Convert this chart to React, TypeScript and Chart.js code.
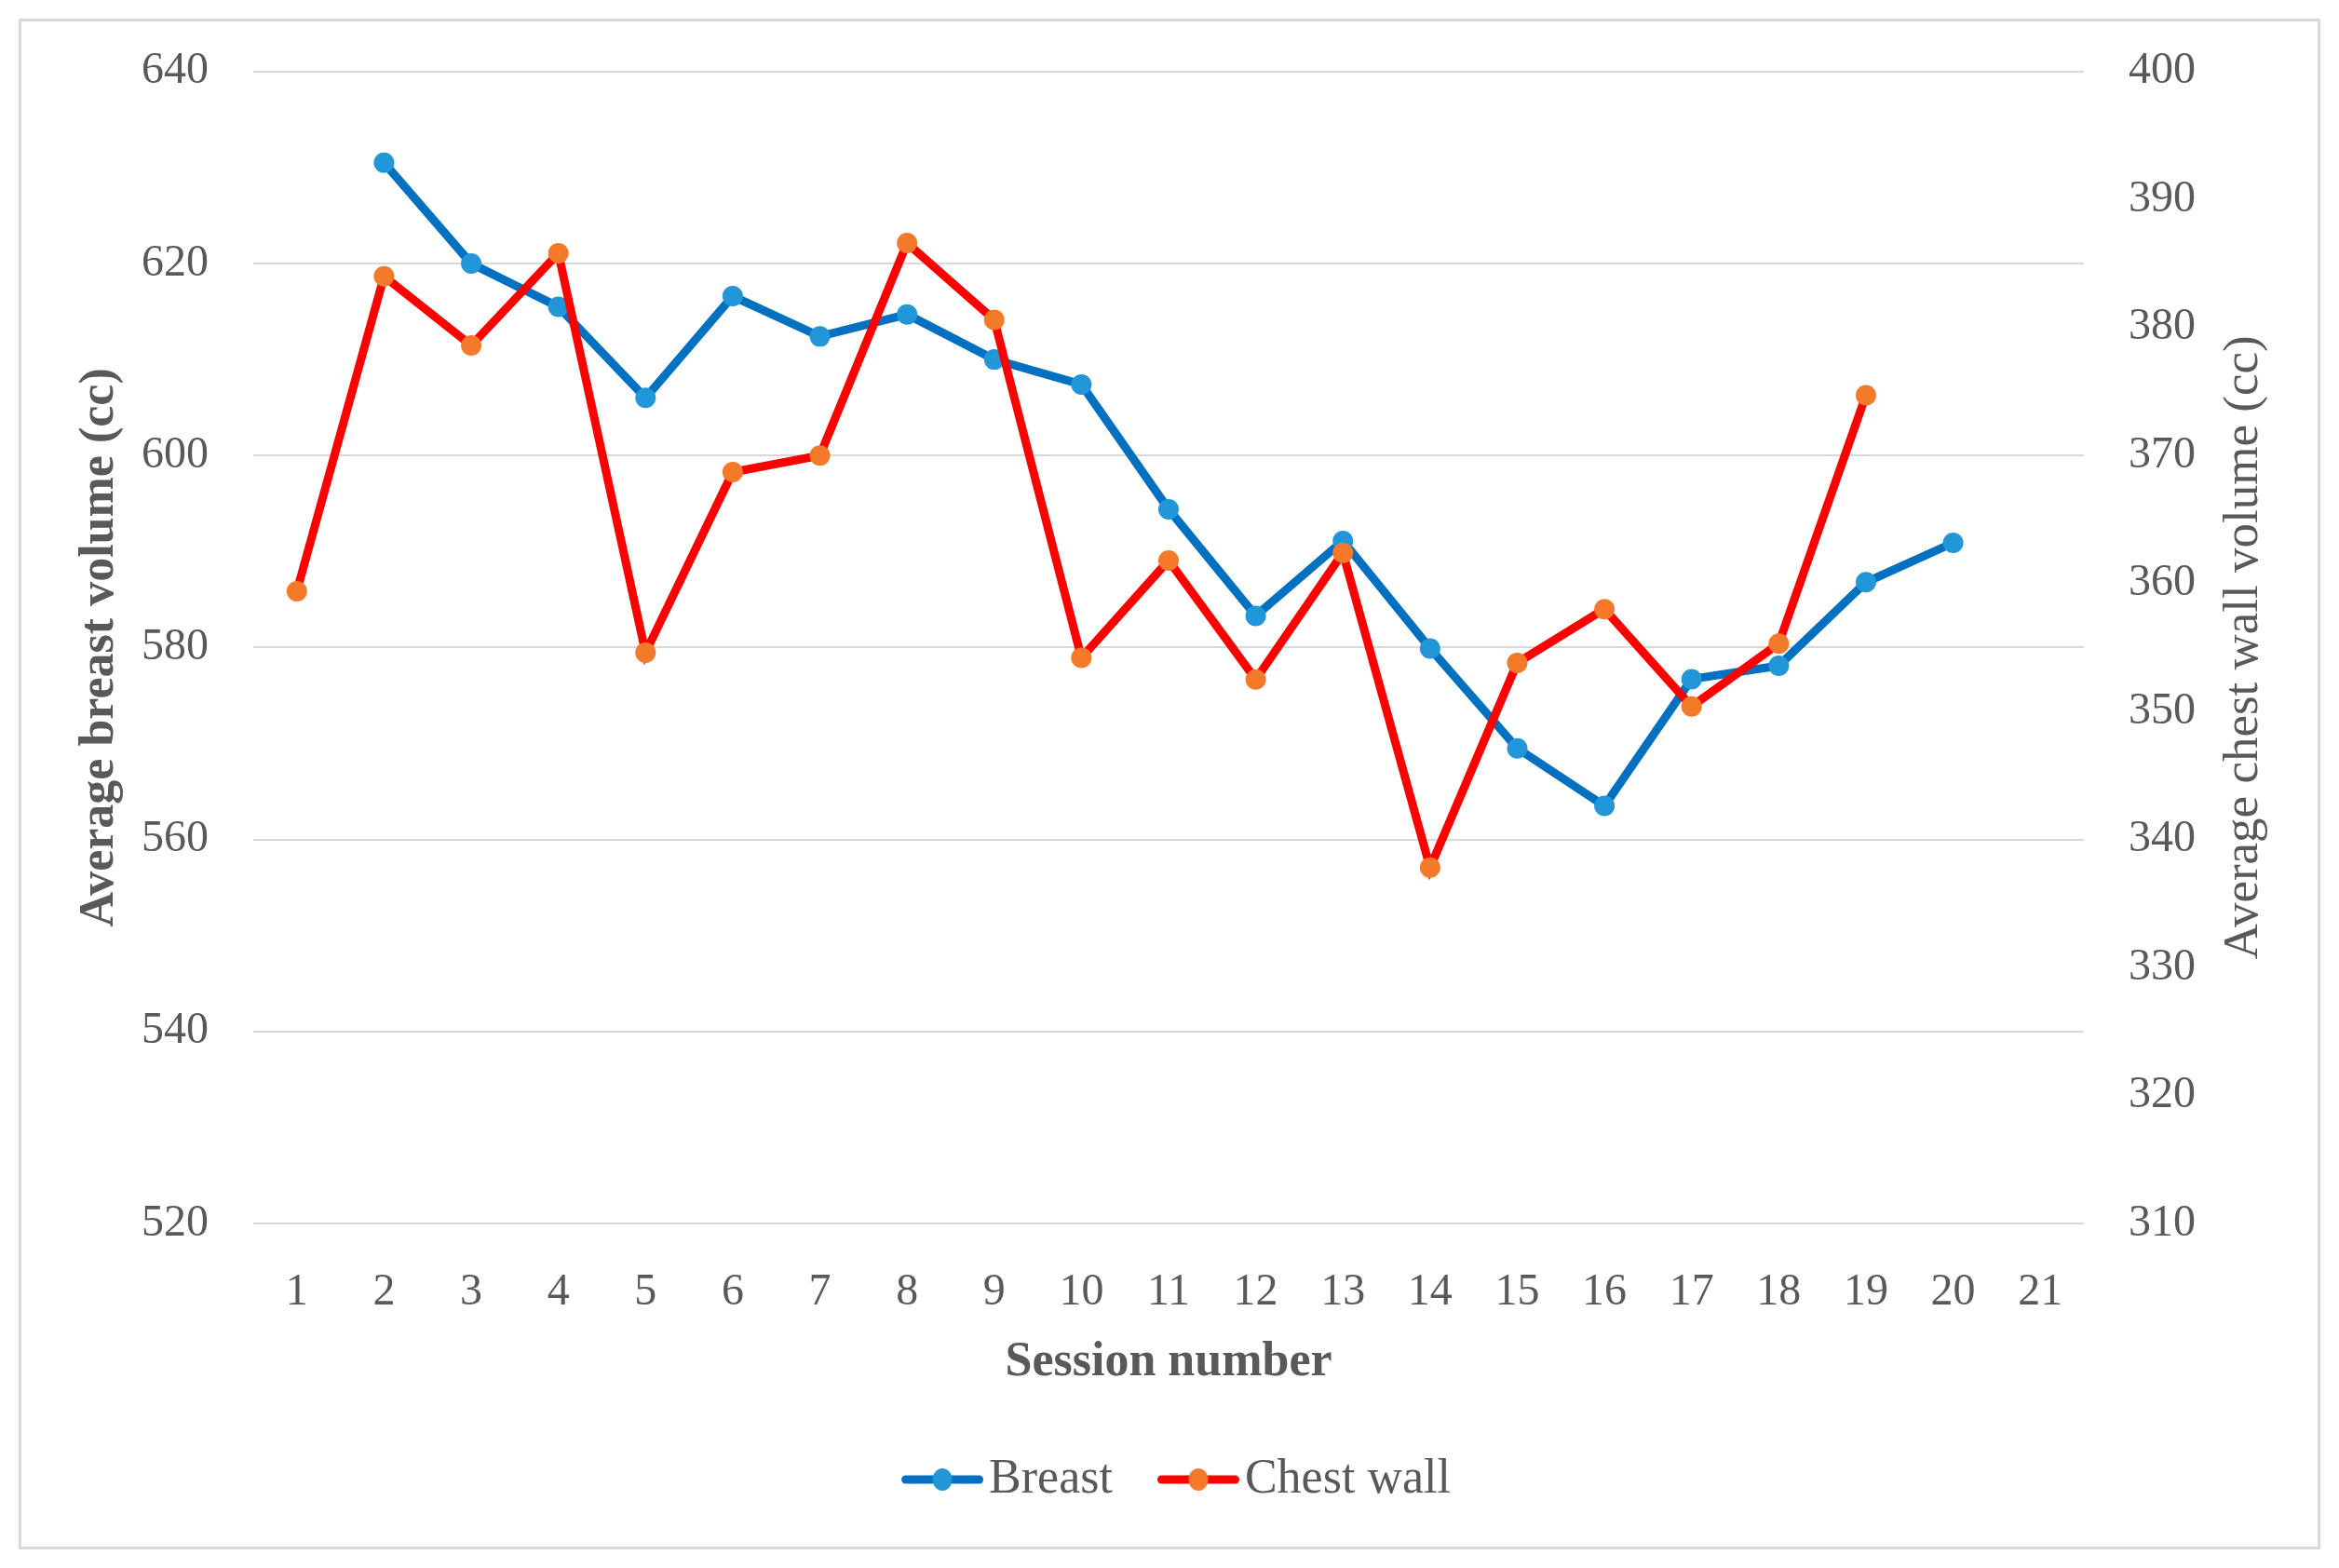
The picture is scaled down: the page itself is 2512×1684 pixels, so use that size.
import React, { useEffect, useRef } from 'react';
import { Chart, registerables } from 'chart.js';

Chart.register(...registerables);

// ---- data ----
const sessions = ['1', '2', '3', '4', '5', '6', '7', '8', '9', '10', '11', '12', '13', '14', '15', '16', '17', '18', '19', '20', '21'];
const breastVolume = [null, 630.5, 620.0, 615.5, 606.0, 616.6, 612.4, 614.7, 610.0, 607.4, 594.4, 583.3, 591.1, 579.9, 569.5, 563.5, 576.7, 578.1, 586.8, 590.9, null];
const chestWallVolume = [359.4, 384.0, 378.6, 385.8, 354.6, 368.7, 370.0, 386.6, 380.6, 354.2, 361.8, 352.5, 362.4, 337.8, 353.8, 358.0, 350.4, 355.3, 374.7, null, null];
const leftAxisRange = [520, 640];
const leftAxisStep = 20;
const rightAxisRange = [310, 400];
const rightAxisStep = 10;
const seriesNames = ['Breast', 'Chest wall'];
const xTitle = 'Session number';
const leftTitle = 'Average breast volume (cc)';
const rightTitle = 'Average chest wall volume (cc)';

// ---- styles ----
const TEXT = '#595959';
const GRID = '#D9D9D9';
const BREAST_LINE = '#0070C0';
const BREAST_POINT = '#2196D8';
const CHEST_LINE = '#FF0000';
const CHEST_POINT = '#F47A2A';
const FONT = '"Liberation Serif", "Times New Roman", serif';

function makeIcon(lineColor: string, pointColor: string) {
  const c = document.createElement('canvas');
  c.width = 120;
  c.height = 30;
  const g = c.getContext('2d')!;
  g.strokeStyle = lineColor;
  g.lineWidth = 9;
  g.lineCap = 'round';
  g.beginPath();
  g.moveTo(36.5, 15);
  g.lineTo(115.5, 15);
  g.stroke();
  g.fillStyle = pointColor;
  g.beginPath();
  g.ellipse(76, 15, 10.5, 12, 0, 0, Math.PI * 2);
  g.fill();
  return c;
}

const framePlugin = {
  id: 'frame',
  beforeDraw(chart: any) {
    const ctx = chart.ctx;
    ctx.save();
    ctx.fillStyle = '#ffffff';
    ctx.fillRect(0, 0, chart.width, chart.height);
    ctx.strokeStyle = GRID;
    ctx.lineWidth = 3;
    ctx.strokeRect(21.5, 21.5, chart.width - 43, chart.height - 43);
    ctx.restore();
  },
  afterDraw(chart: any) {
    const s = chart.scales.y1;
    const ctx = chart.ctx;
    ctx.save();
    ctx.translate(s.right - 28, (s.top + s.bottom) / 2);
    ctx.rotate(-Math.PI / 2);
    ctx.font = `53px ${FONT}`;
    ctx.fillStyle = TEXT;
    ctx.textAlign = 'center';
    ctx.textBaseline = 'middle';
    ctx.fillText(rightTitle, 0, 0);
    ctx.restore();
  },
};

export default function App() {
  const ref = useRef<HTMLCanvasElement | null>(null);

  useEffect(() => {
    if (!ref.current) return;
    const icons = [makeIcon(BREAST_LINE, BREAST_POINT), makeIcon(CHEST_LINE, CHEST_POINT)];
    const chart = new Chart(ref.current, {
      type: 'line',
      data: {
        labels: sessions,
        datasets: [
          {
            label: seriesNames[0],
            data: breastVolume,
            yAxisID: 'y',
            borderColor: BREAST_LINE,
            backgroundColor: BREAST_POINT,
            pointBackgroundColor: BREAST_POINT,
            pointBorderWidth: 0,
            pointRadius: 11,
            pointHoverRadius: 11,
            borderWidth: 9,
            tension: 0,
            order: 1,
          },
          {
            label: seriesNames[1],
            data: chestWallVolume,
            yAxisID: 'y1',
            borderColor: CHEST_LINE,
            backgroundColor: CHEST_POINT,
            pointBackgroundColor: CHEST_POINT,
            pointBorderWidth: 0,
            pointRadius: 11,
            pointHoverRadius: 11,
            borderWidth: 9,
            tension: 0,
            order: 0,
          },
        ],
      },
      options: {
        animation: false,
        responsive: false,
        devicePixelRatio: 1,
        layout: { padding: { left: 76, right: 74, top: 75, bottom: 59 } },
        plugins: {
          tooltip: { enabled: false },
          legend: {
            position: 'bottom',
            align: 'center',
            labels: {
              usePointStyle: true,
              pointStyleWidth: 80,
              padding: 36,
              color: TEXT,
              font: { family: FONT, size: 52 },
              generateLabels: () =>
                seriesNames.map((name, i) => ({
                  text: name,
                  pointStyle: icons[i],
                  fillStyle: 'transparent',
                  strokeStyle: 'transparent',
                  lineWidth: 0,
                  hidden: false,
                  datasetIndex: i,
                  fontColor: TEXT,
                })),
            },
          },
        },
        scales: {
          x: {
            type: 'category',
            offset: true,
            grid: { display: false, drawTicks: false },
            border: { display: false },
            ticks: { color: TEXT, font: { family: FONT, size: 48 }, padding: 46, maxRotation: 0, autoSkip: false },
            title: {
              display: true,
              text: xTitle,
              color: TEXT,
              font: { family: FONT, size: 52, weight: 'bold' },
              padding: { top: 0, bottom: 32 },
            },
            afterFit: (axis: any) => {
              axis.height = 213;
            },
          },
          y: {
            position: 'left',
            min: leftAxisRange[0],
            max: leftAxisRange[1],
            grid: { color: GRID, lineWidth: 2, drawTicks: false },
            border: { display: false },
            ticks: { stepSize: leftAxisStep, color: TEXT, font: { family: FONT, size: 48 }, padding: 48 },
            title: {
              display: true,
              text: leftTitle,
              color: TEXT,
              font: { family: FONT, size: 52, weight: 'bold' },
              padding: { top: 0, bottom: 0 },
            },
            afterFit: (axis: any) => {
              axis.width = 196;
            },
          },
          y1: {
            position: 'right',
            min: rightAxisRange[0],
            max: rightAxisRange[1],
            grid: { display: false, drawTicks: false },
            border: { display: false },
            ticks: { stepSize: rightAxisStep, color: TEXT, font: { family: FONT, size: 48 }, padding: 48 },
            title: { display: false },
            afterFit: (axis: any) => {
              axis.width = 200;
            },
          },
        },
      },
      plugins: [framePlugin],
    });
    return () => chart.destroy();
  }, []);

  return (
    <div style={{ position: 'absolute', left: 0, top: 0, width: 2512, height: 1684 }}>
      <canvas ref={ref} width={2512} height={1684} style={{ width: 2512, height: 1684, display: 'block' }} />
    </div>
  );
}
